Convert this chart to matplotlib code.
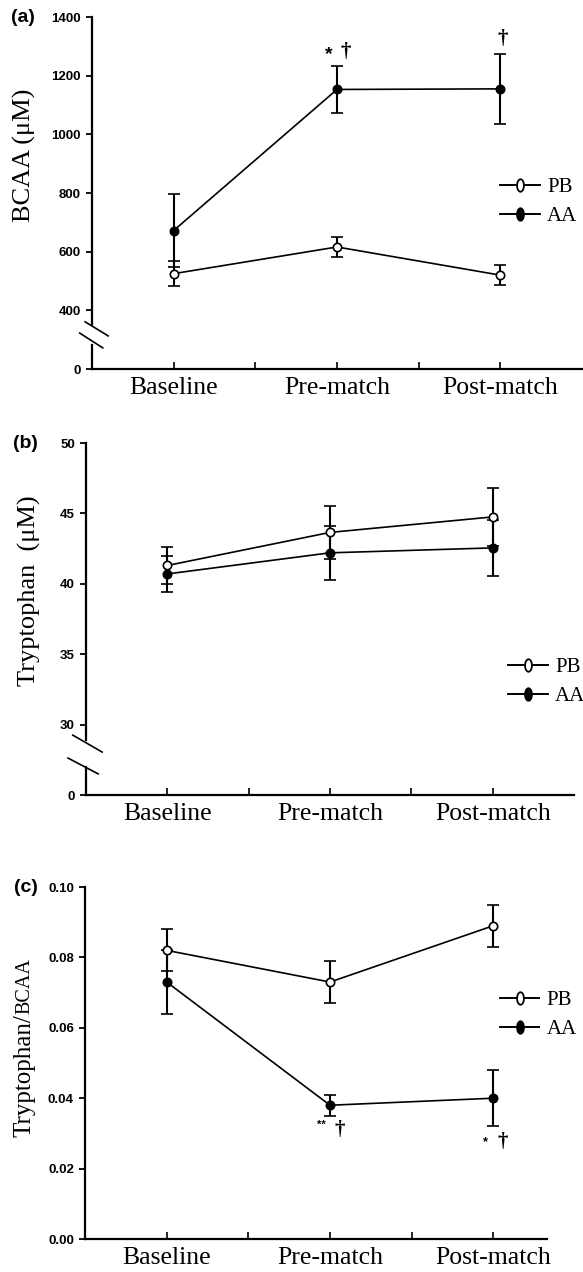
import matplotlib
matplotlib.use("Agg")
import matplotlib.pyplot as plt
from matplotlib.lines import Line2D
from matplotlib.path import Path
from matplotlib.transforms import Affine2D

# ---- data ----
timepoints = ["Baseline", "Pre-match", "Post-match"]
x_pos = [1, 3, 5]

bcaa_pb = [525, 616, 520]
bcaa_pb_err = [43, 34, 33]
bcaa_aa = [672, 1153, 1155]
bcaa_aa_err = [125, 80, 120]

trp_pb = [41.3, 43.65, 44.75]
trp_pb_err = [1.3, 1.9, 2.05]
trp_aa = [40.7, 42.2, 42.55]
trp_aa_err = [1.3, 1.9, 2.0]

ratio_pb = [0.082, 0.073, 0.089]
ratio_pb_err = [0.006, 0.006, 0.006]
ratio_aa = [0.073, 0.038, 0.040]
ratio_aa_err = [0.009, 0.003, 0.008]

serif = "Liberation Serif"
sans = "Liberation Sans"

W, H = 583, 1272
fig = plt.figure(figsize=(W / 100, H / 100), dpi=100)


def px_axes(left, right, top, bottom):
    return fig.add_axes([left / W, 1 - bottom / H, (right - left) / W, (bottom - top) / H])


# narrow ellipse used by the legend markers
ellipse = Path.unit_circle().transformed(Affine2D().scale(0.55, 1.0))


def draw_series(ax, y, err, filled):
    ax.errorbar(x_pos, y, yerr=err, color="black", lw=1.2, elinewidth=1.5,
                capsize=4.5, capthick=1.5, marker="o", ms=6,
                mfc="black" if filled else "white", mec="black", mew=1.2,
                zorder=3 if filled else 4)


def style_axes(ax, xmax, ylim, yticks, yticklabels):
    ax.set_xlim(0, xmax)
    ax.set_ylim(*ylim)
    ax.spines["top"].set_visible(False)
    ax.spines["right"].set_visible(False)
    ax.spines["bottom"].set_linewidth(1.6)
    ax.spines["left"].set_linewidth(1.6)
    ax.set_xticks([1, 2, 3, 4, 5])
    ax.set_xticklabels(["Baseline", "", "Pre-match", "", "Post-match"],
                       family=serif, fontsize=18.5)
    ax.tick_params(axis="x", direction="in", length=5, width=1.2, pad=6)
    ax.set_yticks(yticks)
    ax.set_yticklabels(yticklabels, family=sans, fontsize=9.5, weight="bold")
    ax.tick_params(axis="y", direction="out", length=4, width=1.3, pad=4)


def add_legend(ax, x, y):
    h_pb = Line2D([], [], color="black", lw=1.4, marker=ellipse, ms=9,
                  mfc="white", mec="black", mew=1.3)
    h_aa = Line2D([], [], color="black", lw=1.4, marker=ellipse, ms=9,
                  mfc="black", mec="black", mew=1.3)
    ax.legend([h_pb, h_aa], ["PB", "AA"], loc="center left", bbox_to_anchor=(x, y),
              frameon=False, prop={"family": serif, "size": 15}, handlelength=1.9,
              handletextpad=0.35, labelspacing=0.45, borderpad=0, borderaxespad=0)


def axis_break(ax, gap, slashes):
    # left spine drawn by hand so it can have a gap
    ax.spines["left"].set_visible(False)
    kw = dict(transform=ax.transAxes, color="black", clip_on=False)
    ax.plot([0, 0], [0, gap[0]], lw=1.6, **kw)
    ax.plot([0, 0], [gap[1], 1], lw=1.6, **kw)
    for (x0, y0, x1, y1) in slashes:
        ax.plot([x0, x1], [y0, y1], lw=1.2, **kw)


# ---------- (a) BCAA ----------
ax1 = px_axes(92, 582, 17, 369)
draw_series(ax1, bcaa_aa, bcaa_aa_err, True)
draw_series(ax1, bcaa_pb, bcaa_pb_err, False)
style_axes(ax1, 6, (200, 1400), [200, 400, 600, 800, 1000, 1200, 1400],
           ["0", "400", "600", "800", "1000", "1200", "1400"])
axis_break(ax1, (0.068, 0.125),
           [(-0.014, 0.134, 0.033, 0.094), (-0.025, 0.102, 0.022, 0.060)])
ax1.text(-0.137, 0.608, "BCAA (\u03bcM)", transform=ax1.transAxes, rotation=90,
         ha="center", va="center", family=serif, fontsize=19)
ax1.text(-0.141, 1.0, "(a)", transform=ax1.transAxes, ha="center", va="center",
         family=sans, fontsize=14, weight="bold")
add_legend(ax1, 0.833, 0.474)
ax1.annotate("*", (x_pos[1], bcaa_aa[1] + bcaa_aa_err[1]), xytext=(-6, 2),
             textcoords="offset points", ha="center", va="bottom", family=sans,
             fontsize=14, weight="bold")
ax1.annotate("\u2020", (x_pos[1], bcaa_aa[1] + bcaa_aa_err[1]), xytext=(6.5, 3),
             textcoords="offset points", ha="center", va="bottom", family=serif,
             fontsize=15, weight="bold")
ax1.annotate("\u2020", (x_pos[2], bcaa_aa[2] + bcaa_aa_err[2]), xytext=(1.5, 3),
             textcoords="offset points", ha="center", va="bottom", family=serif,
             fontsize=15, weight="bold")

# ---------- (b) Tryptophan ----------
ax2 = px_axes(86, 574, 443, 795)
draw_series(ax2, trp_aa, trp_aa_err, True)
draw_series(ax2, trp_pb, trp_pb_err, False)
style_axes(ax2, 6, (25, 50), [25, 30, 35, 40, 45, 50],
           ["0", "30", "35", "40", "45", "50"])
axis_break(ax2, (0.0795, 0.156),
           [(-0.027, 0.170, 0.033, 0.122), (-0.037, 0.105, 0.025, 0.060)])
ax2.text(-0.115, 0.58, "Tryptophan  (\u03bcM)", transform=ax2.transAxes, rotation=90,
         ha="center", va="center", family=serif, fontsize=19)
ax2.text(-0.125, 1.0, "(b)", transform=ax2.transAxes, ha="center", va="center",
         family=sans, fontsize=14, weight="bold")
add_legend(ax2, 0.865, 0.321)

# ---------- (c) Tryptophan/BCAA ----------
ax3 = px_axes(85, 547, 887, 1239)
draw_series(ax3, ratio_aa, ratio_aa_err, True)
draw_series(ax3, ratio_pb, ratio_pb_err, False)
xmax3 = 6 * (547 - 85) / (582 - 92)
style_axes(ax3, xmax3, (0, 0.10), [0, 0.02, 0.04, 0.06, 0.08, 0.10],
           ["0.00", "0.02", "0.04", "0.06", "0.08", "0.10"])
t1 = ax3.text(-0.132, 0.29, "Tryptophan/", transform=ax3.transAxes, rotation=90,
              ha="center", va="bottom", family=serif, fontsize=18)
ax3.annotate("BCAA", xy=(0.55, 1.0), xycoords=t1, rotation=90, ha="center",
             va="bottom", family=serif, fontsize=14.5)
ax3.text(-0.128, 1.0, "(c)", transform=ax3.transAxes, ha="center", va="center",
         family=sans, fontsize=14, weight="bold")
add_legend(ax3, 0.898, 0.636)
ax3.annotate("**", (x_pos[1], ratio_aa[1] - ratio_aa_err[1]), xytext=(-6, -3),
             textcoords="offset points", ha="center", va="top", family=sans,
             fontsize=8, weight="bold")
ax3.annotate("\u2020", (x_pos[1], ratio_aa[1] - ratio_aa_err[1]), xytext=(7, -3),
             textcoords="offset points", ha="center", va="top", family=serif,
             fontsize=15, weight="bold")
ax3.annotate("*", (x_pos[2], ratio_aa[2] - ratio_aa_err[2]), xytext=(-6, -7),
             textcoords="offset points", ha="center", va="top", family=sans,
             fontsize=9, weight="bold")
ax3.annotate("\u2020", (x_pos[2], ratio_aa[2] - ratio_aa_err[2]), xytext=(7, -4),
             textcoords="offset points", ha="center", va="top", family=serif,
             fontsize=15, weight="bold")

fig.savefig("out.png", dpi=100)
